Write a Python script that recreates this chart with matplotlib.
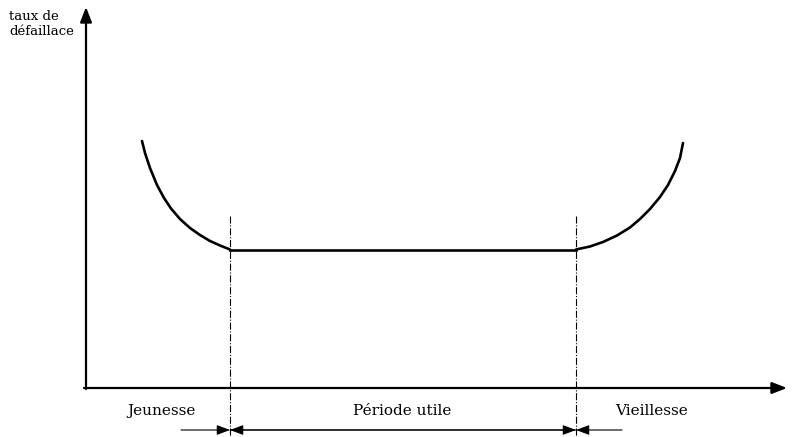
import matplotlib.pyplot as plt

# courbe en baignoire (coordonnées, en pixels)
jeune_x = [142, 145, 150, 157, 164, 171, 180, 190, 200, 210, 220, 230]
jeune_y = [141, 153, 168, 185, 198, 208.5, 219, 228, 235, 241, 245.5, 249.5]
utile_x = [230, 576]
utile_y = [249.5, 249.5]
vieux_x = [576, 590, 603, 617, 630, 640, 650, 660, 668, 675, 680, 683]
vieux_y = [249.5, 246.5, 242, 235.5, 227.5, 219, 209, 197, 185, 171, 158, 143]

limites = [230, 576]
phases = ['Jeunesse', 'Période utile', 'Vieillesse']
phases_x = [161, 402, 652]

fig = plt.figure(figsize=(7.94, 4.37), dpi=100)
ax = fig.add_axes([0, 0, 1, 1])
ax.set_xlim(0, 794)
ax.set_ylim(437, 0)
ax.axis('off')

head = dict(arrowstyle='-|>,head_length=0.9,head_width=0.35', color='black', lw=1.6,
            shrinkA=0, shrinkB=0)
# axes
ax.annotate('', xy=(86, 7), xytext=(86, 389), arrowprops=head)
ax.annotate('', xy=(787, 388), xytext=(84, 388), arrowprops=head)

ax.text(9, 24, 'taux de\ndéfaillace', fontsize=9.5, family='DejaVu Serif',
        va='center', ha='left', linespacing=1.15)

# courbe
ax.plot(jeune_x, jeune_y, color='black', lw=1.9, solid_capstyle='round', solid_joinstyle='round')
ax.plot(utile_x, utile_y, color='black', lw=1.9)
ax.plot(vieux_x, vieux_y, color='black', lw=1.9, solid_capstyle='round', solid_joinstyle='round')

# limites des phases
for x in limites:
    ax.plot([x, x], [216, 437], color='black', lw=0.8, ls='-.')

# étiquettes des phases
for nom, x in zip(phases, phases_x):
    ax.text(x, 411, nom, fontsize=11, family='DejaVu Serif', ha='center', va='center')

# flèches de durée
small = dict(arrowstyle='-|>,head_length=0.8,head_width=0.3', color='black', lw=0.8,
             shrinkA=0, shrinkB=0)
ax.annotate('', xy=(limites[0], 430), xytext=(181, 430), arrowprops=small)
ax.annotate('', xy=(limites[1], 430), xytext=(limites[0], 430), arrowprops=small)
ax.annotate('', xy=(limites[0], 430), xytext=(limites[1], 430), arrowprops=small)
ax.annotate('', xy=(limites[1], 430), xytext=(622, 430), arrowprops=small)

fig.savefig('out.png', dpi=100)
